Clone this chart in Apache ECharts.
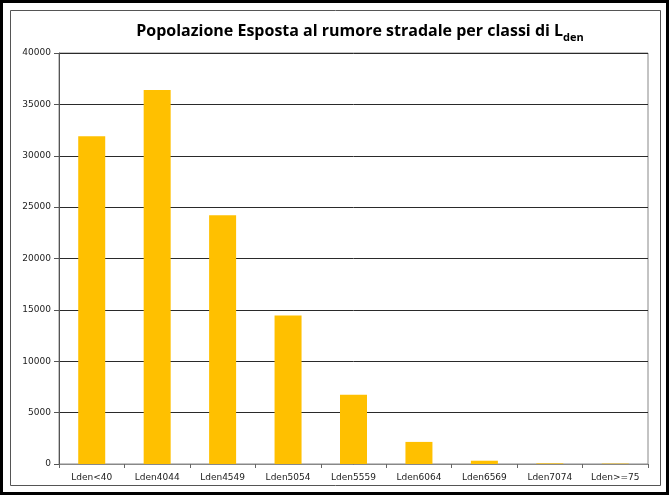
<!DOCTYPE html>
<html>
<head>
<meta charset="utf-8">
<script src="https://cdn.jsdelivr.net/npm/echarts@6/dist/echarts.min.js"></script>
<style>
  html, body { margin: 0; padding: 0; background: #fff; }
  #chart { width: 669px; height: 495px; }
</style>
</head>
<body>
<div id="chart"></div>
<script>
// Noise exposure classes (Lden) and exposed population per class
const categories = ['Lden<40', 'Lden4044', 'Lden4549', 'Lden5054', 'Lden5559', 'Lden6064', 'Lden6569', 'Lden7074', 'Lden>=75'];
const population = [31900, 36400, 24200, 14450, 6750, 2150, 320, 60, 40];
const yTicks = [0, 5000, 10000, 15000, 20000, 25000, 30000, 35000, 40000];

const chart = echarts.init(document.getElementById('chart'), null, { renderer: 'canvas' });

chart.setOption({
  backgroundColor: '#fff',
  animation: false,
  title: {
    text: '{a|Popolazione Esposta al rumore stradale per classi di L}{b|den}',
    left: 355,
    textAlign: 'center',
    top: 12,
    textStyle: {
      rich: {
        a: { fontFamily: 'Open Sans', fontWeight: 'bold', fontSize: 16, color: '#000', lineHeight: 22, verticalAlign: 'bottom' },
        b: { fontFamily: 'Open Sans', fontWeight: 'bold', fontSize: 11, color: '#000', lineHeight: 22, verticalAlign: 'bottom', padding: [0, 0, -4, 0] }
      }
    }
  },
  graphic: [
    { type: 'rect', shape: { x: 1.5, y: 1.5, width: 666, height: 492 }, style: { fill: null, stroke: '#000', lineWidth: 3 }, silent: true },
    { type: 'rect', shape: { x: 10.5, y: 10.5, width: 650, height: 475 }, style: { fill: null, stroke: '#555', lineWidth: 1 }, silent: true }
  ],
  grid: {
    left: 59, right: 21, top: 53, bottom: 31,
    show: true, borderColor: '#888', borderWidth: 1
  },
  xAxis: {
    type: 'category',
    data: categories,
    axisLine: { lineStyle: { color: '#888', width: 1 } },
    axisTick: { show: true, alignWithLabel: false, length: 4, lineStyle: { color: '#666' } },
    axisLabel: { fontFamily: 'DejaVu Sans', fontSize: 9, color: '#222', margin: 9, interval: 0 }
  },
  yAxis: {
    type: 'value',
    min: yTicks[0],
    max: yTicks[yTicks.length - 1],
    interval: yTicks[1] - yTicks[0],
    axisLine: { show: true, lineStyle: { color: '#555', width: 1 } },
    axisTick: { show: true, length: 5, lineStyle: { color: '#555' } },
    axisLabel: { fontFamily: 'DejaVu Sans', fontSize: 9, color: '#222', margin: 8, formatter: v => String(v) },
    splitLine: { show: true, lineStyle: { color: '#2a2a2a', width: 1 } }
  },
  series: [{
    type: 'bar',
    data: population,
    barWidth: 27,
    itemStyle: { color: '#FFC000' }
  }]
});
</script>
</body>
</html>
